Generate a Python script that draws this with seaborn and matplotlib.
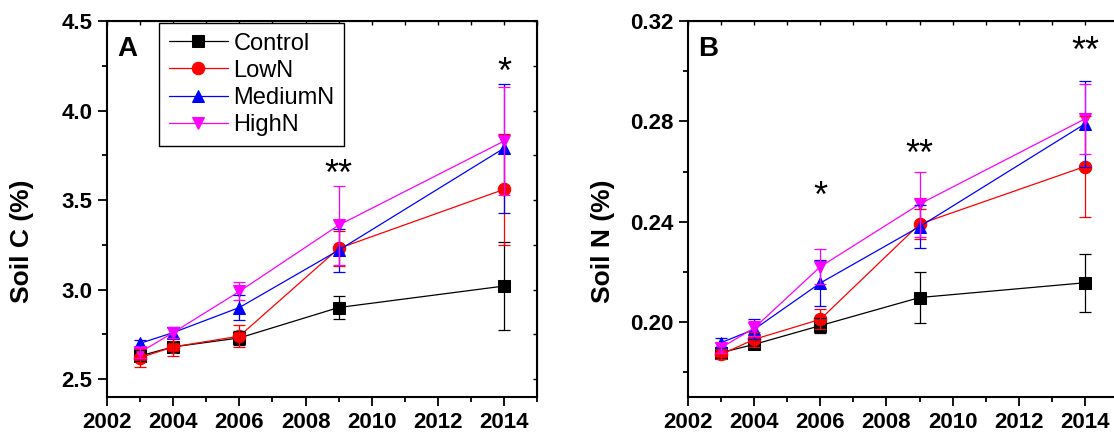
#%% Soil C and soil N over time under N addition

import numpy as np
import matplotlib
matplotlib.use('Agg')
import matplotlib.pyplot as plt
from matplotlib.ticker import MultipleLocator
import seaborn as sns

#%% Data

years = [2003, 2004, 2006, 2009, 2014]
treatments = ['Control', 'LowN', 'MediumN', 'HighN']

# panel A: soil C (%)
soil_c = {
    'Control': [2.63, 2.68, 2.73, 2.90, 3.02],
    'LowN':    [2.62, 2.68, 2.74, 3.23, 3.56],
    'MediumN': [2.70, 2.76, 2.90, 3.22, 3.79],
    'HighN':   [2.65, 2.76, 2.99, 3.36, 3.83],
}
soil_c_err = {
    'Control': [0.03, 0.03, 0.04, 0.065, 0.245],
    'LowN':    [0.05, 0.05, 0.06, 0.10, 0.31],
    'MediumN': [0.02, 0.03, 0.07, 0.12, 0.36],
    'HighN':   [0.03, 0.03, 0.05, 0.22, 0.30],
}

# panel B: soil N (%)
soil_n = {
    'Control': [0.1877, 0.191, 0.1985, 0.2097, 0.2156],
    'LowN':    [0.1870, 0.193, 0.2010, 0.2390, 0.2620],
    'MediumN': [0.1917, 0.197, 0.2155, 0.2380, 0.2790],
    'HighN':   [0.1897, 0.1975, 0.2220, 0.2470, 0.2810],
}
soil_n_err = {
    'Control': [0.002, 0.002, 0.003, 0.010, 0.0115],
    'LowN':    [0.002, 0.003, 0.004, 0.006, 0.020],
    'MediumN': [0.002, 0.004, 0.009, 0.0085, 0.017],
    'HighN':   [0.002, 0.003, 0.007, 0.013, 0.014],
}

# significance marks (year, y, text)
stars_a = [(2009, 3.64, '**'), (2014, 4.21, '*')]
stars_b = [(2006, 0.2495, '*'), (2009, 0.2665, '**'), (2014, 0.3075, '**')]

colors = {'Control': 'black', 'LowN': 'red', 'MediumN': 'blue', 'HighN': 'magenta'}
markers = {'Control': 's', 'LowN': 'o', 'MediumN': '^', 'HighN': 'v'}

#%% Style

sns.set_style('ticks')
plt.rcParams['font.family'] = ['Liberation Sans', 'DejaVu Sans']
plt.rcParams['font.weight'] = 'bold'
plt.rcParams['text.color'] = 'black'
plt.rcParams['axes.labelcolor'] = 'black'
plt.rcParams['axes.edgecolor'] = 'black'
plt.rcParams['xtick.color'] = 'black'
plt.rcParams['ytick.color'] = 'black'

fig = plt.figure(figsize=(11.14, 4.38), dpi=100)
ax1 = fig.add_axes([0.0961, 0.0936, 0.386, 0.858])
ax2 = fig.add_axes([0.6176, 0.0936, 0.386, 0.858])


def draw_panel(ax, data, err, ylim, ymaj, ymin, fmt, ylabel, letter, stars, legend):
    for t in treatments:
        sns.lineplot(x=years, y=data[t], color=colors[t], marker=markers[t],
                     markersize=9, markeredgecolor=colors[t], linewidth=0.9,
                     label=t, ax=ax, zorder=3)
        ax.errorbar(years, data[t], yerr=err[t], fmt='none', ecolor=colors[t],
                    elinewidth=0.9, capsize=4, capthick=0.9, zorder=4)

    ax.set_xlim(2002, 2015)
    ax.set_ylim(*ylim)
    ax.xaxis.set_major_locator(MultipleLocator(2))
    ax.xaxis.set_minor_locator(MultipleLocator(1))
    ax.yaxis.set_major_locator(MultipleLocator(ymaj))
    ax.yaxis.set_minor_locator(MultipleLocator(ymin))
    ax.yaxis.set_major_formatter(plt.FormatStrFormatter(fmt))

    for s in ax.spines.values():
        s.set_linewidth(1.5)
        s.set_visible(True)
    ax.tick_params(which='major', direction='out', length=6.5, width=1.3,
                   labelsize=16, pad=4)
    ax.tick_params(which='minor', direction='out', length=3.5, width=1.3)

    top = ax.secondary_xaxis('top')
    top.xaxis.set_major_locator(MultipleLocator(1))
    top.tick_params(direction='in', length=3, width=1, labeltop=False)
    right = ax.secondary_yaxis('right')
    right.yaxis.set_major_locator(MultipleLocator(ymin))
    right.tick_params(direction='in', length=3, width=1, labelright=False)

    ax.set_xlabel('')
    ax.set_ylabel(ylabel, fontsize=19, fontweight='bold')
    ax.yaxis.set_label_coords(-0.17, 0.415)
    ax.text(0.023, 0.925, letter, transform=ax.transAxes, fontsize=20,
            fontweight='bold', ha='left', va='center')

    for x, y, s in stars:
        ax.text(x, y, s, fontsize=26, fontweight='normal', ha='center', va='center')

    if legend:
        leg = ax.legend(loc='upper left', bbox_to_anchor=(0.121, 0.995),
                        borderaxespad=0, prop={'size': 17, 'weight': 'normal'},
                        frameon=True, fancybox=False, handlelength=2.5,
                        labelspacing=0.22, borderpad=0.4, handletextpad=0.25)
        leg.get_frame().set_edgecolor('black')
        leg.get_frame().set_linewidth(1.0)
        leg.get_frame().set_alpha(1)
    else:
        ax.get_legend().remove()


draw_panel(ax1, soil_c, soil_c_err, (2.4, 4.5), 0.5, 0.25, '%.1f',
           'Soil C (%)', 'A', stars_a, True)
draw_panel(ax2, soil_n, soil_n_err, (0.17, 0.32), 0.04, 0.02, '%.2f',
           'Soil N (%)', 'B', stars_b, False)

fig.savefig('out.png', dpi=100)
